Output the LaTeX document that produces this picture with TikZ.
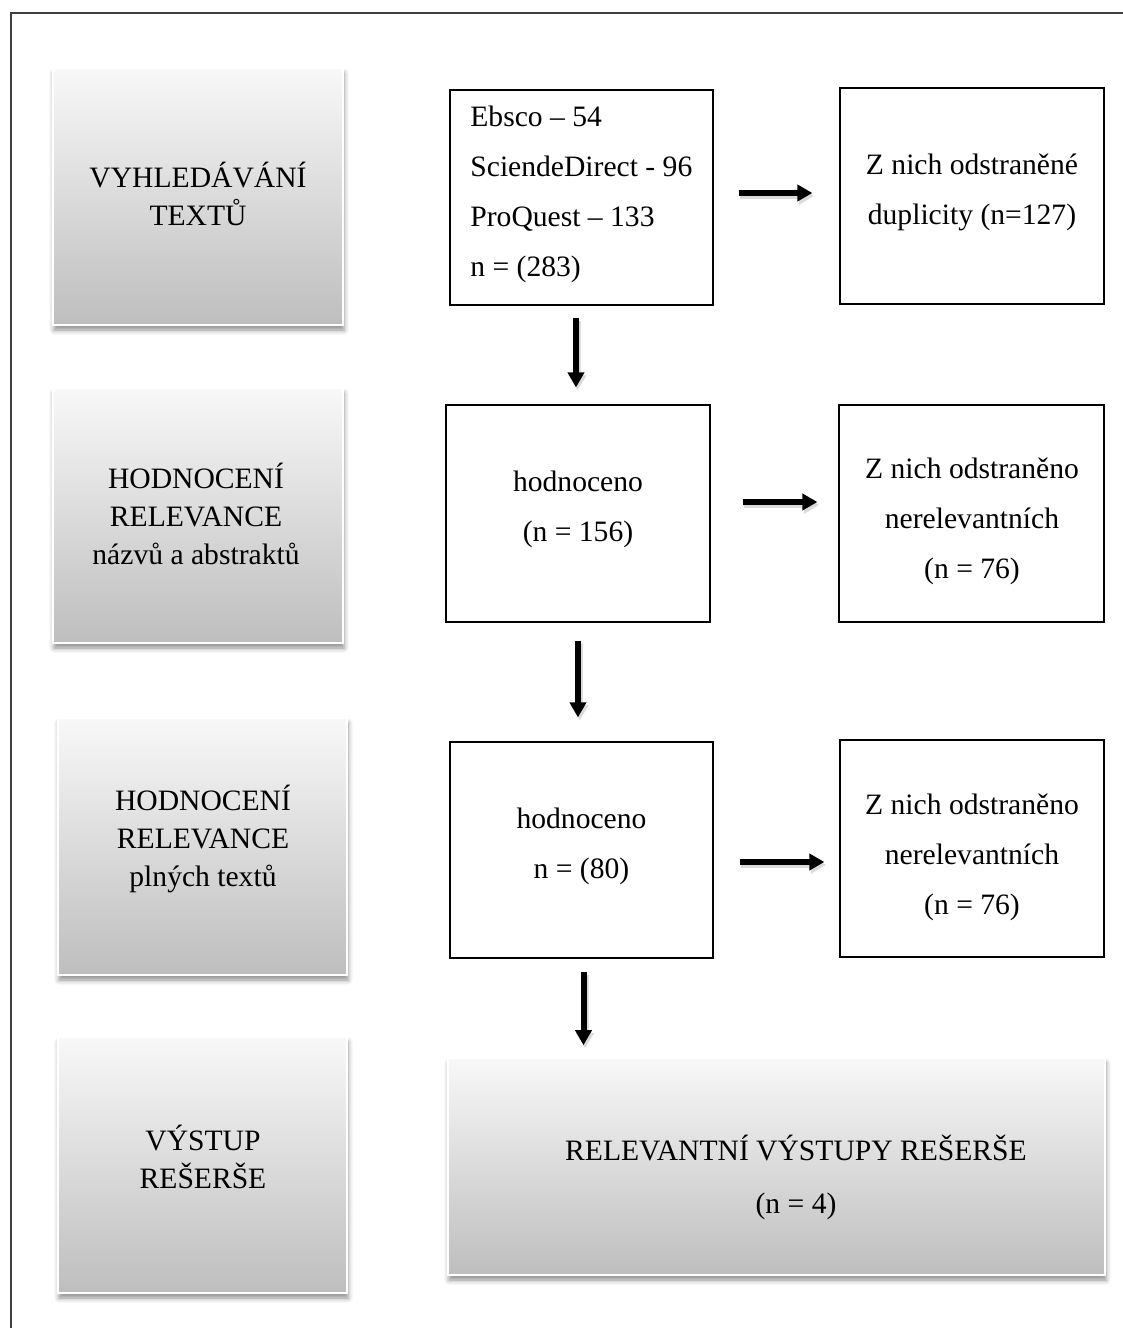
\documentclass[tikz,border=0pt]{standalone}
\usepackage{fontspec}
\setmainfont{Liberation Serif}
\usetikzlibrary{arrows.meta,shadows.blur}
\definecolor{gtop}{HTML}{F8F8F8}
\definecolor{gbot}{HTML}{BEBEBE}
\definecolor{framec}{HTML}{404040}
\begin{document}
\begin{tikzpicture}[x=0.5pt,y=-0.5pt,
  gbox/.style={draw=white, line width=0.8pt, top color=gtop, bottom color=gbot,
    inner sep=0pt,
    blur shadow={shadow xshift=0.5pt, shadow yshift=-2.5pt, shadow blur radius=2.5pt, shadow opacity=45}},
  wbox/.style={draw=black, line width=0.6pt, fill=white, inner sep=0pt},
  txt/.style={align=center, inner sep=0pt, font=\fontsize{14.8pt}{25pt}\selectfont},
  ltxt/.style={align=center, inner sep=0pt, font=\fontsize{14.8pt}{19pt}\selectfont},
  arr/.style={-{Triangle[length=7.5pt,width=8pt]}, line width=3pt, black,
    preaction={draw=black!14, line width=3.4pt, -{Triangle[length=7.5pt,width=8.4pt]}, transform canvas={shift={(0.8pt,-1.5pt)}}}},
  frame/.style={draw=framec, line width=0.8pt}]
\useasboundingbox (0,0) rectangle (1123,1328);
\draw[frame] (11,1328) -- (11,13) -- (1123,13);

% left grey boxes
\node[gbox, minimum width=145pt, minimum height=128.5pt] (l1) at (198,196.5) {};
\node[gbox, minimum width=145pt, minimum height=127.5pt] (l2) at (198,515.5) {};
\node[gbox, minimum width=144.5pt, minimum height=128.5pt] (l3) at (202.5,846.5) {};
\node[gbox, minimum width=144.5pt, minimum height=128pt] (l4) at (202.5,1165) {};
\node[gbox, minimum width=328.5pt, minimum height=108.5pt] (b) at (776.5,1166.5) {};

% white boxes
\node[wbox, minimum width=131.5pt, minimum height=107.5pt] (m1) at (581.5,197.5) {};
\node[wbox, minimum width=132pt, minimum height=108pt] (r1) at (972,196) {};
\node[wbox, minimum width=132pt, minimum height=108.5pt] (m2) at (578,513.5) {};
\node[wbox, minimum width=132.5pt, minimum height=108.5pt] (r2) at (971.5,513.5) {};
\node[wbox, minimum width=131.5pt, minimum height=108pt] (m3) at (581.5,850) {};
\node[wbox, minimum width=132pt, minimum height=108.5pt] (r3) at (972,848.5) {};

% texts
\node[ltxt] (l1t) at (198,194) {VYHLEDÁVÁNÍ\\TEXTŮ};
\node[ltxt] (l2t) at (196,514) {HODNOCENÍ\\RELEVANCE\\názvů a abstraktů};
\node[ltxt] (l3t) at (203,838.5) {HODNOCENÍ\\RELEVANCE\\plných textů};
\node[ltxt] (l4t) at (203,1157) {VÝSTUP\\REŠERŠE};

\node[txt, align=left, anchor=west] (m1t) at (470,194) {Ebsco – 54\\SciendeDirect - 96\\ProQuest – 133\\n = (283)};
\node[txt] (r1t) at (972,192) {Z nich odstraněné\\duplicity (n=127)};
\node[txt] (m2t) at (578,509) {hodnoceno\\(n = 156)};
\node[txt] (r2t) at (972,521.5) {Z nich odstraněno\\nerelevantních\\(n = 76)};
\node[txt] (m3t) at (581.5,846) {hodnoceno\\n = (80)};
\node[txt] (r3t) at (972,857) {Z nich odstraněno\\nerelevantních\\(n = 76)};
\node[txt, font=\fontsize{14.8pt}{26.5pt}\selectfont] (bt) at (796,1177.5) {RELEVANTNÍ VÝSTUPY REŠERŠE\\(n = 4)};

% arrows
\draw[arr, shorten <=6pt, shorten >=8.5pt] ([xshift=-2.75pt]m1.south) -- ([xshift=-2.75pt]m1.south |- m2.north);
\draw[arr, shorten <=9pt, shorten >=12pt] (m2.south) -- (m2.south |- m3.north);
\draw[arr, shorten <=6.5pt, shorten >=6pt] ([xshift=1pt]m3.south) -- ([xshift=1pt]m3.south |- b.north);
\draw[arr, shorten <=12.5pt, shorten >=13.5pt] ([yshift=2.25pt]m1.east) -- ([yshift=2.25pt]m1.east -| r1.west);
\draw[arr, shorten <=16pt, shorten >=10.5pt] ([yshift=5.75pt]m2.east) -- ([yshift=5.75pt]m2.east -| r2.west);
\draw[arr, shorten <=13pt, shorten >=7.5pt] ([yshift=-6pt]m3.east) -- ([yshift=-6pt]m3.east -| r3.west);
\end{tikzpicture}
\end{document}
